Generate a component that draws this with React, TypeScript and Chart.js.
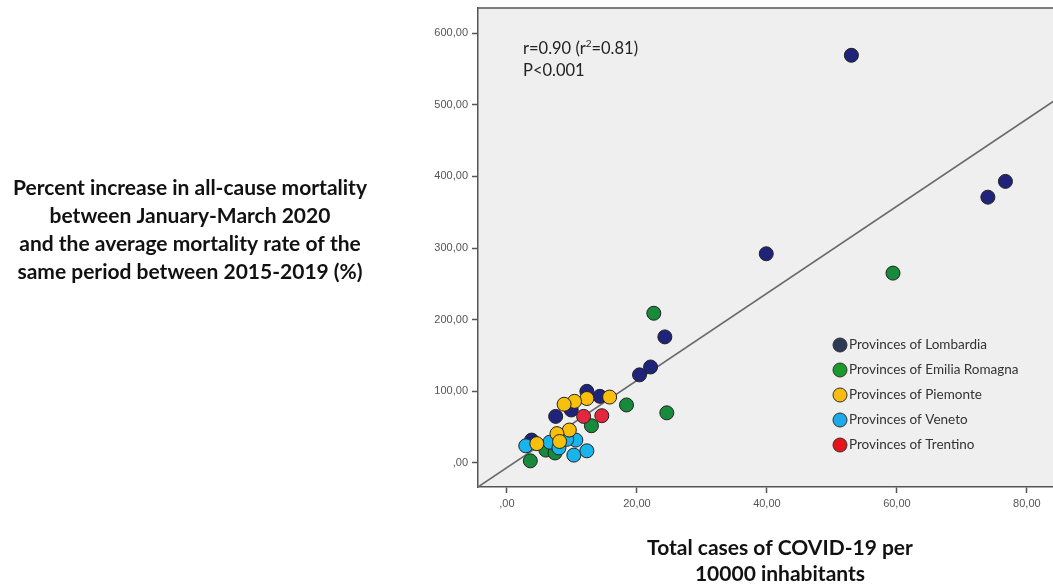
import React, { useEffect, useRef } from "react";
import { Chart, registerables } from "chart.js";

Chart.register(...registerables);

// ---- Data ----
const lombardiaX = [53.0, 76.7, 74.0, 39.9, 24.3, 22.1, 20.4, 12.3, 14.3, 7.5, 9.9, 3.8];
const lombardiaY = [569, 393, 371, 292, 176, 134, 123, 100, 93, 65, 74, 32];
const emiliaX = [59.4, 22.6, 24.6, 18.4, 13.0, 3.6, 6.0, 7.4];
const emiliaY = [265, 209, 70, 81, 52, 3, 18, 14];
const piemonteX = [15.8, 12.3, 10.4, 8.8, 9.6, 7.7, 4.6, 8.1];
const piemonteY = [92, 90, 86, 82, 46, 41, 27, 30];
const venetoX = [2.9, 6.6, 8.0, 10.6, 9.2, 10.3, 12.3];
const venetoY = [24, 29, 21, 32, 33, 11, 17];
const trentinoX = [11.8, 14.6];
const trentinoY = [65, 66];

// fitted regression line end points
const fitX = [-4.45, 85.25];
const fitY = [-33.5, 511.9];

const seriesLabels = [
  "Provinces of Lombardia",
  "Provinces of Emilia Romagna",
  "Provinces of Piemonte",
  "Provinces of Veneto",
  "Provinces of Trentino",
];
const seriesColors = ["#20237a", "#178a3c", "#f8bf0c", "#17b5ec", "#e5273d"];
const legendColors = ["#2c3a55", "#1a9a2a", "#f6bd10", "#1eaaea", "#e8141c"];
const drawOrder = [3, 4, 0, 1, 2];

const yTitleLines = [
  "Percent increase in all-cause mortality",
  "between January-March 2020",
  "and the average mortality rate of the",
  "same period between 2015-2019 (%)",
];
const xTitleLines = ["Total cases of COVID-19 per", "10000 inhabitants"];
const statLine1 = ["r=0.90 (r", "2", "=0.81)"];
const statLine2 = "P<0.001";

const xRange = [-4.45, 85.25];
const yRange = [-33.5, 635];

const pts = (xs: number[], ys: number[]) => xs.map((x, i) => ({ x, y: ys[i] }));

const fmt = (v: number) => (v === 0 ? ",00" : v.toFixed(2).replace(".", ","));

export default function App() {
  const ref = useRef<HTMLCanvasElement>(null);
  useEffect(() => {
    if (!ref.current) return;
    const seriesData = [
      pts(lombardiaX, lombardiaY),
      pts(emiliaX, emiliaY),
      pts(piemonteX, piemonteY),
      pts(venetoX, venetoY),
      pts(trentinoX, trentinoY),
    ];
    const datasets: any[] = seriesData.map((d, i) => ({
      type: "scatter",
      label: seriesLabels[i],
      data: d,
      backgroundColor: seriesColors[i],
      borderColor: "#222",
      borderWidth: 1,
      pointRadius: 7,
      order: drawOrder[i],
    }));
    datasets.push({
      type: "line",
      label: "fit",
      data: pts(fitX, fitY),
      borderColor: "#6a6a6a",
      borderWidth: 1.6,
      pointRadius: 0,
      fill: false,
      order: 10,
    });

    const framePlugin = {
      id: "frame",
      beforeDraw(chart: any) {
        const { ctx, chartArea: a } = chart;
        ctx.save();
        ctx.fillStyle = "#efefef";
        ctx.fillRect(a.left, a.top, a.right - a.left, a.bottom - a.top);
        ctx.restore();
      },
      afterDraw(chart: any) {
        const { ctx, chartArea: a } = chart;
        ctx.save();
        ctx.strokeStyle = "#555";
        ctx.lineWidth = 1.5;
        ctx.beginPath();
        ctx.moveTo(a.left, a.top);
        ctx.lineTo(a.right, a.top);
        ctx.stroke();

        // left axis title
        ctx.fillStyle = "#111";
        ctx.textAlign = "center";
        ctx.textBaseline = "middle";
        ctx.font = "bold 21px Lato";
        yTitleLines.forEach((t, i) => ctx.fillText(t, 190, 188 + i * 28));
        // bottom axis title
        xTitleLines.forEach((t, i) => ctx.fillText(t, 780, 548 + i * 26));

        // stats annotation
        ctx.textAlign = "left";
        ctx.fillStyle = "#222";
        ctx.font = "16.5px Lato";
        let x = a.left + 45;
        const y1 = 49;
        ctx.fillText(statLine1[0], x, y1);
        x += ctx.measureText(statLine1[0]).width;
        ctx.font = "10px Lato";
        ctx.fillText(statLine1[1], x, y1 - 5);
        x += ctx.measureText(statLine1[1]).width;
        ctx.font = "16.5px Lato";
        ctx.fillText(statLine1[2], x, y1);
        ctx.fillText(statLine2, a.left + 45, 71);

        // legend
        ctx.font = "13.5px Lato";
        chart.data.datasets.forEach((ds: any, i: number) => {
          if (ds.type !== "scatter") return;
          const ly = 345 + i * 25;
          ctx.beginPath();
          ctx.arc(840, ly, 7, 0, Math.PI * 2);
          ctx.fillStyle = legendColors[i];
          ctx.fill();
          ctx.strokeStyle = "#333";
          ctx.lineWidth = 1;
          ctx.stroke();
          ctx.fillStyle = "#333";
          ctx.fillText(ds.label, 849, ly);
        });
        ctx.restore();
      },
    };

    const axisCommon = {
      type: "linear",
      grid: {
        display: true,
        drawOnChartArea: false,
        drawTicks: true,
        tickLength: 6,
        color: "#555",
        tickWidth: 1.5,
      },
      border: { display: true, color: "#555", width: 1.5 },
    };

    const chart = new Chart(ref.current, {
      type: "scatter",
      data: { datasets },
      plugins: [framePlugin],
      options: {
        responsive: false,
        animation: false,
        layout: { padding: { left: 418, top: 8, right: 0, bottom: 70 } },
        plugins: { legend: { display: false }, tooltip: { enabled: false } },
        scales: {
          x: {
            ...axisCommon,
            min: xRange[0],
            max: xRange[1],
            afterFit: (s: any) => {
              s.height = 30;
              s.paddingLeft = 0;
              s.paddingRight = 0;
            },
            ticks: {
              stepSize: 20,
              includeBounds: false,
              color: "#555",
              font: { size: 11, family: "Liberation Sans" },
              padding: 4,
              maxRotation: 0,
              callback: (v: any) => fmt(Number(v)),
            },
          },
          y: {
            ...axisCommon,
            min: yRange[0],
            max: yRange[1],
            afterFit: (s: any) => {
              s.width = 60;
              s.paddingTop = 0;
              s.paddingBottom = 0;
            },
            ticks: {
              stepSize: 100,
              includeBounds: false,
              color: "#555",
              font: { size: 11, family: "Liberation Sans" },
              padding: 4,
              callback: (v: any) => fmt(Number(v)),
            },
          },
        },
      } as any,
    });
    return () => chart.destroy();
  }, []);

  return (
    <div
      style={{
        position: "fixed",
        left: 0,
        top: 0,
        width: 1053,
        height: 587,
        overflow: "hidden",
        background: "#fff",
      }}
    >
      <canvas ref={ref} width={1069} height={587} style={{ display: "block" }} />
    </div>
  );
}
